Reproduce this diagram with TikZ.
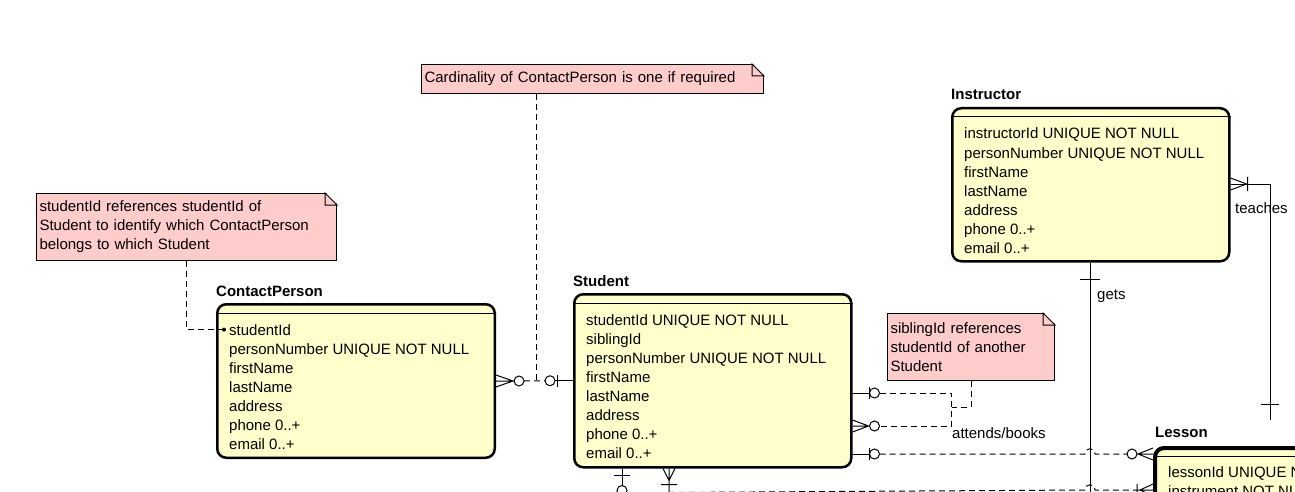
\documentclass[tikz,border=0pt]{standalone}
\usepackage{fontspec}
\setmainfont{Liberation Sans}
\usetikzlibrary{calc}
\definecolor{entityfill}{RGB}{255,255,204}
\definecolor{notefill}{RGB}{255,204,204}

\begin{document}
\begin{tikzpicture}[x=1pt,y=-1pt,
  entity/.style={draw, line width=2.5pt, rounded corners=9pt, fill=entityfill, anchor=north west, inner sep=0pt},
  etitle/.style={font=\bfseries\fontsize{15}{19}\selectfont, anchor=base west, inner sep=0pt},
  attr/.style={font=\fontsize{15}{19}\selectfont, anchor=base west, inner sep=0pt},
  note/.style={draw, line width=1pt, fill=notefill, anchor=north west, align=left, inner xsep=3pt, inner ysep=0pt, font=\fontsize{15}{19}\selectfont},
  rel/.style={line width=1pt},
  reldash/.style={line width=1pt, dash pattern=on 6pt off 4pt},
  lbl/.style={font=\fontsize{15}{19}\selectfont, anchor=west, inner sep=0pt}]
\useasboundingbox (0,0) rectangle (1295,492);
\clip (0,0) rectangle (1295,492);

% notes
\node[note, minimum width=342, minimum height=29, text width=336] (n1) at (421,64) {Cardinality of ContactPerson is one if required};
\node[note, minimum width=300, minimum height=67, text width=294] (n2) at (36,193) {studentId references studentId of\\Student to identify which ContactPerson\\belongs to which Student};
\node[note, minimum width=167, minimum height=67, text width=161] (n3) at (887,313) {siblingId references\\studentId of another\\Student};
\foreach \n in {n1,n2,n3} {
  \fill[white] ([xshift=-12pt,yshift=1pt]\n.north east) -- ([xshift=1pt,yshift=1pt]\n.north east) -- ([xshift=1pt,yshift=-12pt]\n.north east) -- cycle;
  \draw[line width=1pt] ([xshift=-12pt]\n.north east) -- ([yshift=-12pt]\n.north east) -- ([xshift=-12pt,yshift=-12pt]\n.north east) -- cycle;
}

% entities
\node[entity, minimum width=277.5, minimum height=153.5] (cp) at (216,303) {};
\node[entity, minimum width=277, minimum height=173] (st) at (573,293) {};
\node[entity, minimum width=277, minimum height=153] (in) at (951,107) {};
\node[entity, line width=4pt, minimum width=200, minimum height=120] (ls) at (1153,446) {};
\node[etitle] (cp-t) at ($(cp.north west)+(0,-7)$) {ContactPerson};
\node[etitle] (st-t) at ($(st.north west)+(0,-7)$) {Student};
\node[etitle] (in-t) at ($(in.north west)+(0,-7)$) {Instructor};
\node[etitle] (ls-t) at ($(ls.north west)+(2,-9)$) {Lesson};
\foreach \e in {cp,st,in}
  \draw[line width=1pt] ($(\e.north west)+(0,10)$) -- ($(\e.north east)+(0,10)$);
\draw[line width=1pt] ($(ls.north west)+(0,10)$) -- ($(ls.north east)+(0,10)$);

\foreach \a [count=\i] in {studentId, personNumber UNIQUE NOT NULL, firstName, lastName, address, phone 0..+, email 0..+}
  \node[attr] (cp-a\i) at ($(cp.north west)+(13,{13+19*\i})$) {\a};
\foreach \a [count=\i] in {studentId UNIQUE NOT NULL, siblingId, personNumber UNIQUE NOT NULL, firstName, lastName, address, phone 0..+, email 0..+}
  \node[attr] (st-a\i) at ($(st.north west)+(13,{13+19*\i})$) {\a};
\foreach \a [count=\i] in {instructorId UNIQUE NOT NULL, personNumber UNIQUE NOT NULL, firstName, lastName, address, phone 0..+, email 0..+}
  \node[attr] (in-a\i) at ($(in.north west)+(13,{13+19*\i})$) {\a};
\foreach \a [count=\i] in {lessonId UNIQUE NOT NULL, instrument NOT NULL}
  \node[attr] (ls-a\i) at ($(ls.north west)+(15,{12+19*\i})$) {\a};

% ports
\coordinate (j1) at ($(cp.east)!0.5!(st.west)+(1.5,0)$);
\coordinate (st-r1) at (st.east |- 0,393);
\coordinate (st-r2) at (st.east |- 0,426);
\coordinate (st-r3) at (st.east |- 0,454);
\coordinate (j2) at ($(st-r2)+(99,-19)$);
\coordinate (st-b1) at (st.south -| 622,0);
\coordinate (st-b2) at (st.south -| 669,0);
\coordinate (in-r) at (in.east |- 0,184);
\coordinate (in-b) at (in.south -| 1090,0);
\coordinate (gets-end) at (1090,500);
\coordinate (teach-end) at (1270,420);
\coordinate (ls-l1) at (ls.west |- 0,454);
\coordinate (ls-l2) at (ls.west |- 0,490);
\coordinate (h1) at (in-b |- ls-l1);
\coordinate (h2) at (in-b |- ls-l2);

% ContactPerson -- Student
\draw[rel] (cp.east) -- ++(17,0) ($(cp.east)+(0,-6)$) -- ++(17,6) -- ++(-17,6);
\draw[rel] ($(cp.east)+(23,0)$) circle (5pt);
\draw[reldash] ($(cp.east)+(28,0)$) -- ($(st.west)+(-28,0)$);
\draw[rel] ($(st.west)+(-23,0)$) circle (5pt);
\draw[rel] (st.west) -- ++(-18,0) ($(st.west)+(-16,-6)$) -- ++(0,12);
\draw[reldash] (n1.south -| j1) -- (j1);

% note on studentId
\draw[reldash] (n2.south) |- ($(cp-a1.west)+(-7,0)$);
\fill ($(cp-a1.west)+(-5,0)$) circle (2pt);

% Student -- Student (siblingId)
\draw[rel] (st-r1) -- ++(17,0) ($(st-r1)+(17,-6)$) -- ++(0,12);
\draw[rel] ($(st-r1)+(22,0)$) circle (5pt);
\draw[reldash] ($(st-r1)+(27,0)$) -| ($(st-r2)+(99,0)$) -- ($(st-r2)+(27,0)$);
\draw[rel] (st-r2) -- ++(16,0) ($(st-r2)+(0,-6)$) -- ++(16,6) -- ++(-16,6);
\draw[rel] ($(st-r2)+(22,0)$) circle (5pt);
\draw[reldash] (n3.south) |- (j2);

% Instructor -- Lesson (gets)
\draw[rel] (in-b) -- (gets-end);
\draw[rel] ($(in-b)+(-10,17)$) -- ++(20,0);
\node[lbl] (l-gets) at (1097,296) {gets};

% Instructor -- Lesson (teaches)
\node[lbl] (l-teaches) at (1235,208) {teaches};
\draw[rel] (in-r) -| (teach-end);
\draw[rel] ($(in-r)+(0,-6)$) -- ++(16,6) -- ++(-16,6) ($(in-r)+(17,-7)$) -- ++(0,14);
\draw[rel] ($(teach-end)+(-9,-16)$) -- ++(18,0);

% Student -- Lesson
\draw[rel] (st-r3) -- ++(17,0) ($(st-r3)+(17,-6)$) -- ++(0,12);
\draw[rel] ($(st-r3)+(22,0)$) circle (5pt);
\draw[reldash] ($(st-r3)+(27,0)$) -- ($(h1)+(-5,0)$) .. controls +(0,-7) and +(0,-7) .. ($(h1)+(5,0)$) -- ($(ls-l1)+(-26,0)$);
\draw[rel] ($(ls-l1)+(-21,0)$) circle (5pt);
\draw[rel] (ls-l1) -- ++(-16,0) ($(ls-l1)+(0,-6)$) -- ++(-15,6) -- ++(15,6);
\node[lbl] (l-attends) at (952,433) {attends/books};

\draw[rel] (st-b2) -- ++(0,24) ($(st-b2)+(-6,0)$) -- ++(6,12) -- ++(6,-12) ($(st-b2)+(-8,16)$) -- ++(16,0);
\draw[reldash] ($(st-b2)+(0,24)$) -- ($(h2)+(-5,0)$) .. controls +(0,-7) and +(0,-7) .. ($(h2)+(5,0)$) -- ($(ls-l2)+(-16,0)$);
\draw[rel] (ls-l2) -- ++(-16,0) ($(ls-l2)+(-16,-6)$) -- ++(0,12) ($(ls-l2)+(0,-6)$) -- ++(-13,6) -- ++(13,6);

% Student bottom
\draw[rel] (st-b1) -- ++(0,17) ($(st-b1)+(-8,7)$) -- ++(16,0);
\draw[rel] ($(st-b1)+(0,22)$) circle (5pt);
\end{tikzpicture}
\end{document}
